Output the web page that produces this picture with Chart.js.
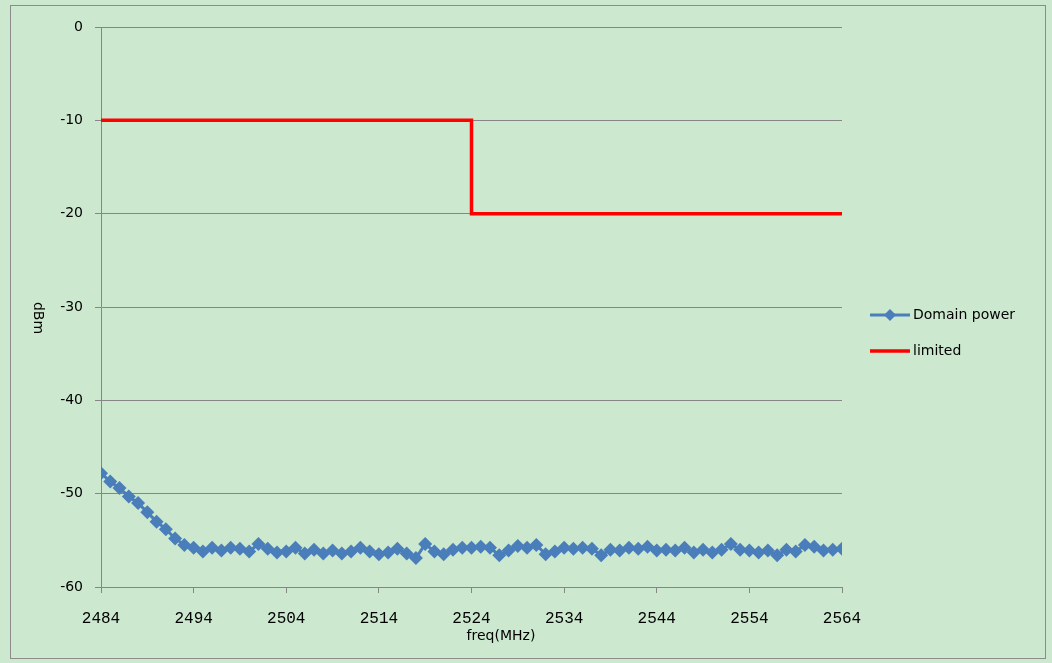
<!DOCTYPE html>
<html>
<head>
<meta charset="utf-8">
<script src="https://cdn.jsdelivr.net/npm/chart.js@4.4.0/dist/chart.umd.min.js"></script>
<style>
  html, body { margin: 0; padding: 0; background: #cce8cf; }
  #wrap { width: 1052px; height: 663px; }
</style>
</head>
<body>
<div id="wrap"><canvas id="powerChart" width="1052" height="663"></canvas></div>
<script>
// frequencies in MHz, one reading per MHz
var freq = [2484, 2485, 2486, 2487, 2488, 2489, 2490, 2491, 2492, 2493,
            2494, 2495, 2496, 2497, 2498, 2499, 2500, 2501, 2502, 2503,
            2504, 2505, 2506, 2507, 2508, 2509, 2510, 2511, 2512, 2513,
            2514, 2515, 2516, 2517, 2518, 2519, 2520, 2521, 2522, 2523,
            2524, 2525, 2526, 2527, 2528, 2529, 2530, 2531, 2532, 2533,
            2534, 2535, 2536, 2537, 2538, 2539, 2540, 2541, 2542, 2543,
            2544, 2545, 2546, 2547, 2548, 2549, 2550, 2551, 2552, 2553,
            2554, 2555, 2556, 2557, 2558, 2559, 2560, 2561, 2562, 2563,
            2564];

// measured domain power (dBm)
var domainPower = [-47.8, -48.7, -49.4, -50.3, -51.0, -52.0, -53.0, -53.8, -54.8, -55.5,
                   -55.8, -56.2, -55.8, -56.1, -55.8, -55.9, -56.2, -55.4, -55.9, -56.3,
                   -56.2, -55.8, -56.4, -56.0, -56.4, -56.1, -56.4, -56.2, -55.8, -56.2,
                   -56.5, -56.3, -55.9, -56.4, -56.9, -55.4, -56.2, -56.5, -56.0, -55.8,
                   -55.8, -55.7, -55.8, -56.6, -56.1, -55.6, -55.8, -55.5, -56.5, -56.2,
                   -55.8, -55.9, -55.8, -55.9, -56.6, -56.0, -56.1, -55.8, -55.9, -55.7,
                   -56.1, -56.0, -56.1, -55.8, -56.3, -56.0, -56.3, -56.0, -55.4, -56.0,
                   -56.1, -56.3, -56.1, -56.6, -56.0, -56.2, -55.5, -55.7, -56.1, -56.0,
                   -55.9];

// limit mask
var limitFreq = [2484, 2524, 2524, 2564];
var limitLevel = [-10, -10, -20, -20];

var blue = '#4a7ebb';
var red = '#ff0000';
var gridGray = '#868686';

function toPoints(xs, ys) {
    return xs.map(function(x, i) { return { x: x, y: ys[i] }; });
}

var decorPlugin = {
    id: 'decor',
    beforeDraw: function(chart) {
        var c = chart.ctx;
        c.save();
        c.fillStyle = '#cce8cf';
        c.fillRect(0, 0, chart.width, chart.height);
        c.strokeStyle = '#8c8c8c';
        c.lineWidth = 1;
        c.strokeRect(10.5, 5.5, 1035, 653);
        c.restore();
    },
    afterDraw: function(chart) {
        var c = chart.ctx;
        c.save();
        // axis titles
        c.fillStyle = '#000';
        c.font = '14px "DejaVu Sans"';
        c.textAlign = 'center';
        c.textBaseline = 'middle';
        c.fillText('freq(MHz)', 501, 636);
        c.translate(38, 318);
        c.rotate(Math.PI / 2);
        c.fillText('dBm', 0, 0);
        c.restore();

        // legend
        c.save();
        chart.data.datasets.forEach(function(ds, i) {
            var y = 315 + i * 36;
            c.strokeStyle = ds.borderColor;
            c.lineWidth = ds.borderWidth;
            c.beginPath();
            c.moveTo(870, y);
            c.lineTo(910, y);
            c.stroke();
            if (ds.pointRadius > 0) {
                c.fillStyle = ds.backgroundColor;
                c.beginPath();
                c.moveTo(890, y - 6);
                c.lineTo(896, y);
                c.lineTo(890, y + 6);
                c.lineTo(884, y);
                c.closePath();
                c.fill();
            }
            c.fillStyle = '#000';
            c.font = '14px "DejaVu Sans"';
            c.textAlign = 'left';
            c.textBaseline = 'middle';
            c.fillText(ds.label, 913, y);
        });
        c.restore();
    }
};

var ctx = document.getElementById('powerChart').getContext('2d');
var chart = new Chart(ctx, {
    type: 'scatter',
    data: {
        datasets: [
            {
                label: 'Domain power',
                data: toPoints(freq, domainPower),
                showLine: true,
                borderColor: blue,
                backgroundColor: blue,
                borderWidth: 3,
                pointStyle: 'rectRot',
                pointRadius: 7,
                pointBorderWidth: 0,
                tension: 0
            },
            {
                label: 'limited',
                data: toPoints(limitFreq, limitLevel),
                showLine: true,
                borderColor: red,
                backgroundColor: red,
                borderWidth: 3.5,
                pointRadius: 0,
                tension: 0
            }
        ]
    },
    options: {
        responsive: false,
        animation: false,
        layout: {
            padding: { left: 0, top: 27, right: 210, bottom: 0 }
        },
        plugins: {
            legend: { display: false },
            tooltip: { enabled: false },
            title: { display: false }
        },
        scales: {
            x: {
                type: 'linear',
                min: 2484,
                max: 2564,
                ticks: {
                    stepSize: 10,
                    color: '#000',
                    maxRotation: 0,
                    padding: 16,
                    font: { family: 'Liberation Mono', size: 16 },
                    callback: function(v) { return String(v); }
                },
                grid: {
                    drawOnChartArea: false,
                    color: gridGray,
                    tickLength: 6
                },
                border: { color: gridGray, width: 1 },
                afterFit: function(scale) { scale.height = 76; }
            },
            y: {
                min: -60,
                max: 0,
                ticks: {
                    stepSize: 10,
                    color: '#000',
                    padding: 12,
                    font: { family: 'DejaVu Sans', size: 14 }
                },
                grid: {
                    color: gridGray,
                    tickLength: 6
                },
                border: { color: gridGray, width: 1 },
                afterFit: function(scale) { scale.width = 101; }
            }
        }
    },
    plugins: [decorPlugin]
});
</script>
</body>
</html>
